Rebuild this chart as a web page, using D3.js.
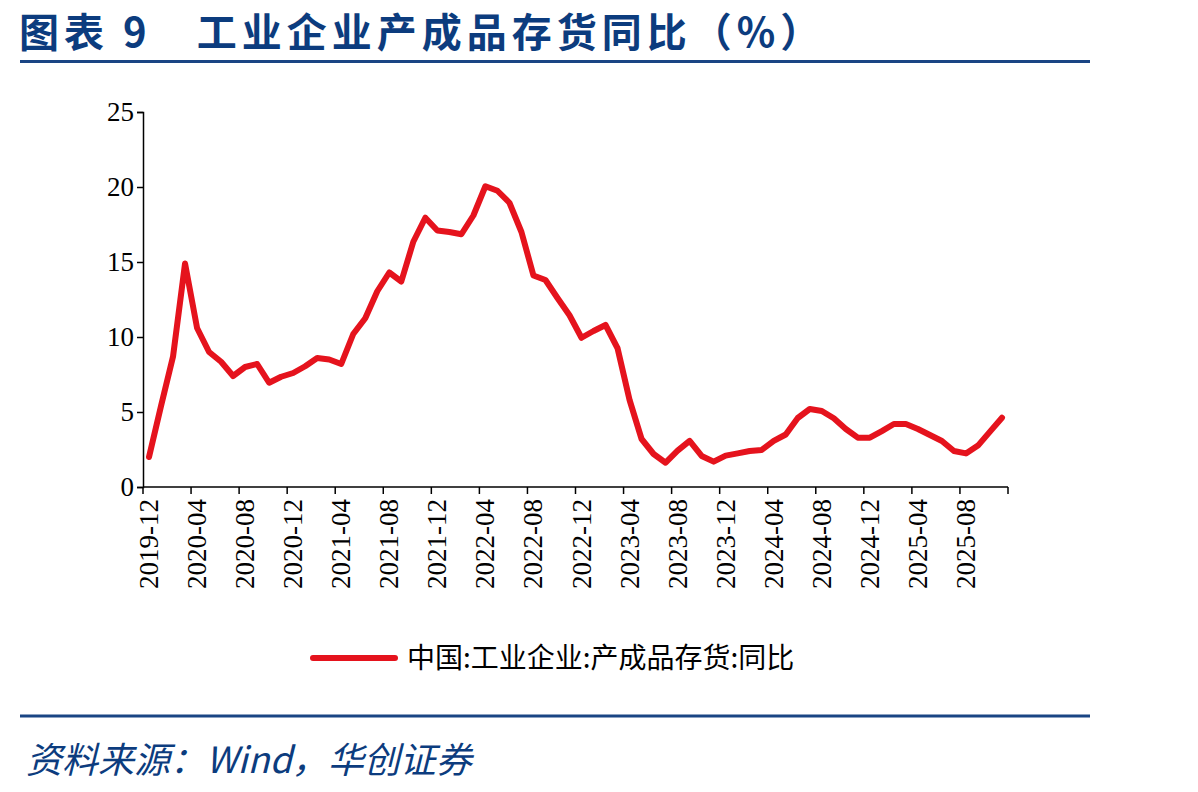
<!DOCTYPE html>
<html>
<head>
<meta charset="utf-8">
<script src="https://cdn.jsdelivr.net/npm/d3@7"></script>
<style>
  body { margin: 0; background: #fff; }
  svg { display: block; }
</style>
</head>
<body>
<div id="chart"></div>
<script>
// 月份类别：2019-12 ~ 2025-11
var months = d3.timeMonth.range(new Date(2019, 11, 1), new Date(2025, 11, 1))
  .map(d3.timeFormat("%Y-%m"));

// 中国:工业企业:产成品存货:同比 (%)
var inventoryYoY = [
  2.0, 5.4, 8.7, 14.9, 10.6, 9.0, 8.35, 7.4, 8.0, 8.2, 6.95, 7.35,
  7.6, 8.05, 8.6, 8.5, 8.2, 10.2, 11.25, 13.05, 14.3, 13.7, 16.35, 17.95,
  17.1, 17.0, 16.85, 18.1, 20.05, 19.75, 18.95, 17.0, 14.1, 13.8, 12.6, 11.45,
  9.95, 10.4, 10.8, 9.25, 5.8, 3.2, 2.2, 1.62, 2.42, 3.07, 2.07, 1.69,
  2.09, 2.24, 2.4, 2.47, 3.07, 3.5, 4.6, 5.2, 5.07, 4.58, 3.87, 3.29,
  3.29, 3.73, 4.2, 4.2, 3.87, 3.47, 3.07, 2.4, 2.24, 2.76, 3.69, 4.62
];

var yTicks = [0, 5, 10, 15, 20, 25];
var seriesName = "中国:工业企业:产成品存货:同比";
var titleText = "图表 9　工业企业产成品存货同比（%）";
var sourceText = "资料来源：Wind，华创证券";

var W = 1198, H = 792;
var plot = {left: 143, right: 1008, top: 112, bottom: 487};
var navy = "#0c3c7e";
var red = "#e5131d";

var svg = d3.select("#chart").append("svg")
  .attr("width", W)
  .attr("height", H);

// 标题
svg.append("text")
  .attr("x", 19)
  .attr("y", 47)
  .attr("fill", navy)
  .attr("font-family", "'Noto Sans CJK SC', sans-serif")
  .attr("font-weight", "bold")
  .attr("font-size", 40)
  .attr("letter-spacing", 5)
  .text(titleText);

svg.append("line")
  .attr("x1", 20).attr("x2", 1090)
  .attr("y1", 61.5).attr("y2", 61.5)
  .attr("stroke", "#1a4584")
  .attr("stroke-width", 3);

var x = d3.scaleBand()
  .domain(months)
  .range([plot.left, plot.right])
  .padding(0);

var y = d3.scaleLinear()
  .domain([0, 25])
  .range([plot.bottom, plot.top]);

// Y 轴
var yAxis = svg.append("g")
  .attr("transform", "translate(" + plot.left + ",0)")
  .call(d3.axisLeft(y).tickValues(yTicks).tickSize(6).tickPadding(3).tickFormat(d3.format("d")));
yAxis.select(".domain").attr("stroke", "#000").attr("stroke-width", 1.5);
yAxis.selectAll(".tick line").attr("stroke", "#000").attr("stroke-width", 1.5);
yAxis.selectAll(".tick text")
  .attr("font-family", "'Liberation Serif', 'Times New Roman', serif")
  .attr("font-size", 27)
  .attr("fill", "#000");

// X 轴：刻度在类别边界，标签在类别中间
var xg = svg.append("g");
xg.append("line")
  .attr("x1", plot.left).attr("x2", plot.right)
  .attr("y1", plot.bottom).attr("y2", plot.bottom)
  .attr("stroke", "#000").attr("stroke-width", 1.5);

var shown = months.filter(function(d, i) { return i % 4 === 0; });
var tickPos = shown.map(function(d) { return x(d); }).concat([plot.right]);

xg.selectAll(".xtick")
  .data(tickPos)
  .enter().append("line")
  .attr("class", "xtick")
  .attr("x1", function(d) { return d; })
  .attr("x2", function(d) { return d; })
  .attr("y1", plot.bottom)
  .attr("y2", plot.bottom + 7)
  .attr("stroke", "#000").attr("stroke-width", 1.5);

xg.selectAll(".xlabel")
  .data(shown)
  .enter().append("text")
  .attr("class", "xlabel")
  .attr("transform", function(d) {
    return "translate(" + (x(d) + x.bandwidth() / 2 + 9) + "," + (plot.bottom + 12) + ") rotate(-90)";
  })
  .attr("text-anchor", "end")
  .attr("font-family", "'Liberation Serif', 'Times New Roman', serif")
  .attr("font-size", 27)
  .attr("fill", "#000")
  .text(function(d) { return d; });

// 折线
svg.append("path")
  .datum(inventoryYoY)
  .attr("fill", "none")
  .attr("stroke", red)
  .attr("stroke-width", 6)
  .attr("stroke-linejoin", "round")
  .attr("stroke-linecap", "round")
  .attr("d", d3.line()
    .x(function(d, i) { return x(months[i]) + x.bandwidth() / 2; })
    .y(function(d) { return y(d); })
  );

// 图例
var lg = svg.append("g").attr("transform", "translate(313,658)");
lg.append("line")
  .attr("x1", 0).attr("x2", 82)
  .attr("y1", 0).attr("y2", 0)
  .attr("stroke", red)
  .attr("stroke-width", 6)
  .attr("stroke-linecap", "round");
lg.append("text")
  .attr("x", 94)
  .attr("y", 10)
  .attr("font-family", "'Noto Sans CJK SC', sans-serif")
  .attr("font-size", 28)
  .attr("fill", "#000")
  .text(seriesName);

// 底部线和资料来源
svg.append("line")
  .attr("x1", 20).attr("x2", 1090)
  .attr("y1", 716).attr("y2", 716)
  .attr("stroke", "#1a4584")
  .attr("stroke-width", 3);

svg.append("text")
  .attr("x", 26)
  .attr("y", 773)
  .attr("fill", navy)
  .attr("font-family", "'Noto Sans CJK SC', serif")
  .attr("font-style", "italic")
  .attr("font-size", 36)
  .text(sourceText);
</script>
</body>
</html>
